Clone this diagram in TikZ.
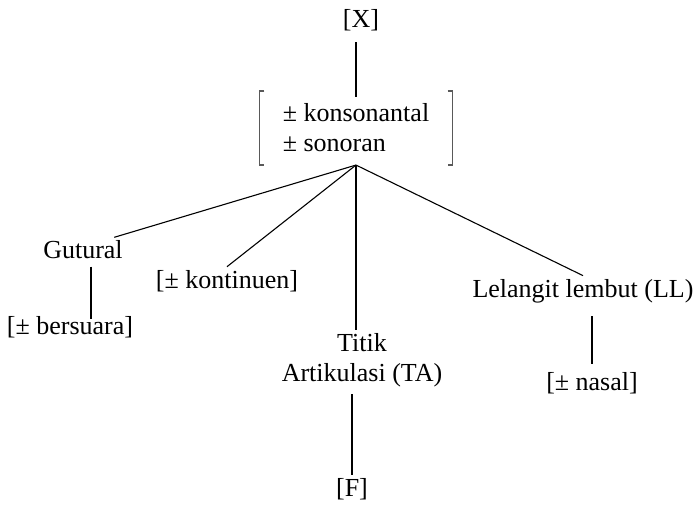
\documentclass[tikz,border=0pt]{standalone}
\usepackage{fontspec}
\setmainfont{Liberation Serif}
\usepackage{tikz}

\begin{document}
\begin{tikzpicture}[x=1pt, y=-1pt, line width=1.1pt,
    lbl/.style={inner sep=3pt, font=\fontsize{26}{30}\selectfont}]
    \useasboundingbox (0,0) rectangle (698,506);

    \node[lbl] (X) at (361, 20) {[X]};
    \node[lbl, minimum width=192pt, minimum height=73pt, align=left] (feat) at (356, 128) {± konsonantal\\± sonoran};
    \node[lbl] (gut) at (83, 250) {Gutural};
    \node[lbl] (bers) at (70, 327) {[± bersuara]};
    \node[lbl] (kont) at (227, 281) {[± kontinuen]};
    \node[lbl, align=center] (ta) at (362, 360) {Titik\\Artikulasi (TA)};
    \node[lbl] (F) at (352, 489) {[F]};
    \node[lbl] (ll) at (583, 291) {Lelangit lembut (LL)};
    \node[lbl] (nas) at (592, 383) {[± nasal]};
    \coordinate (j) at (feat.south);

    % kurung matriks fitur
    \draw[black!65, line width=1.3pt] ([xshift=5]feat.north west) -- (feat.north west) -- (feat.south west) -- ([xshift=5]feat.south west);
    \draw[black!65, line width=1.3pt] ([xshift=-5]feat.north east) -- (feat.north east) -- (feat.south east) -- ([xshift=-5]feat.south east);

    \draw ([yshift=-6]feat.north) -- ([yshift=-8]feat.north |- X.south);
    \draw (j) -- ([xshift=-12]gut.north east);
    \draw (j) -- (kont.north);
    \draw (j) -- (j |- ta.north);
    \draw (j) -- (ll.north);
    \draw ([xshift=8,yshift=-4]gut.south) -- ([xshift=8,yshift=-6]gut.south |- bers.north);
    \draw (F.north) -- ([yshift=-4]F.north |- ta.south);
    \draw ([yshift=5]nas.north) -- ([yshift=-10]nas.north |- ll.south);
\end{tikzpicture}
\end{document}
